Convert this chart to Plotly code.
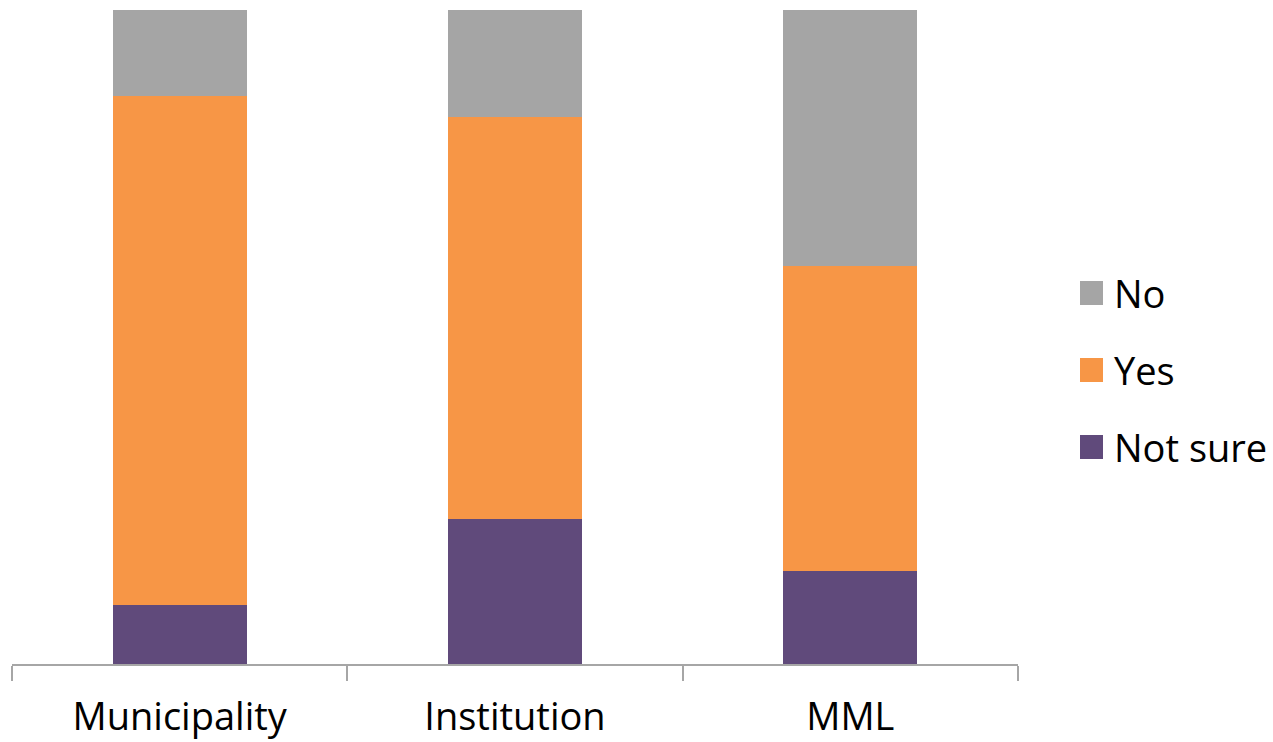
import plotly.graph_objects as go

# Survey responses by organisation type (percent of respondents)
categories = ["Municipality", "Institution", "MML"]
not_sure = [9.0, 22.1, 14.2]
yes = [77.8, 61.5, 46.6]
no = [13.2, 16.4, 39.2]

legend_order = ["No", "Yes", "Not sure"]
colors = {"Not sure": "#604A7B", "Yes": "#F79646", "No": "#A5A5A5"}
FONT = "Open Sans"
W, H = 1273, 742
M = dict(l=12, r=255, t=10, b=78)

fig = go.Figure()

# Stacked bars, bottom to top
for name, vals in [("Not sure", not_sure), ("Yes", yes), ("No", no)]:
    fig.add_trace(go.Bar(
        x=categories, y=vals, name=name,
        marker=dict(color=colors[name], line=dict(width=0)),
    ))

# Legend drawn as large swatches with text, positioned in paper coordinates
plot_w = W - M["l"] - M["r"]
plot_h = H - M["t"] - M["b"]


def px_x(px):
    return (px - M["l"]) / plot_w


def px_y(py):
    return (H - M["b"] - py) / plot_h


centers = [293, 370, 447]
for name, cy in zip(legend_order, centers):
    fig.add_shape(
        type="rect", xref="paper", yref="paper",
        x0=px_x(1080), x1=px_x(1103), y0=px_y(cy + 12), y1=px_y(cy - 12),
        fillcolor=colors[name], line=dict(width=0),
    )
    fig.add_annotation(
        text=name, xref="paper", yref="paper",
        x=px_x(1112), y=px_y(cy), xanchor="left", yanchor="middle",
        showarrow=False, font=dict(family=FONT, size=38, color="black"),
    )

fig.update_layout(
    barmode="stack",
    bargap=0.6,
    width=W, height=H,
    margin=M,
    plot_bgcolor="white", paper_bgcolor="white",
    font=dict(family=FONT, size=38, color="black"),
    showlegend=False,
    xaxis=dict(
        automargin=False,
        showline=True, linecolor="#A6A6A6", linewidth=1.5,
        ticks="outside", tickson="boundaries", ticklen=15,
        tickcolor="#A6A6A6", tickwidth=1.5,
        tickfont=dict(family=FONT, size=38, color="black"),
        ticklabelstandoff=19,
        showgrid=False, zeroline=False,
    ),
    yaxis=dict(range=[0, 100], visible=False, showgrid=False, zeroline=False),
)

fig.write_html("out.html")
